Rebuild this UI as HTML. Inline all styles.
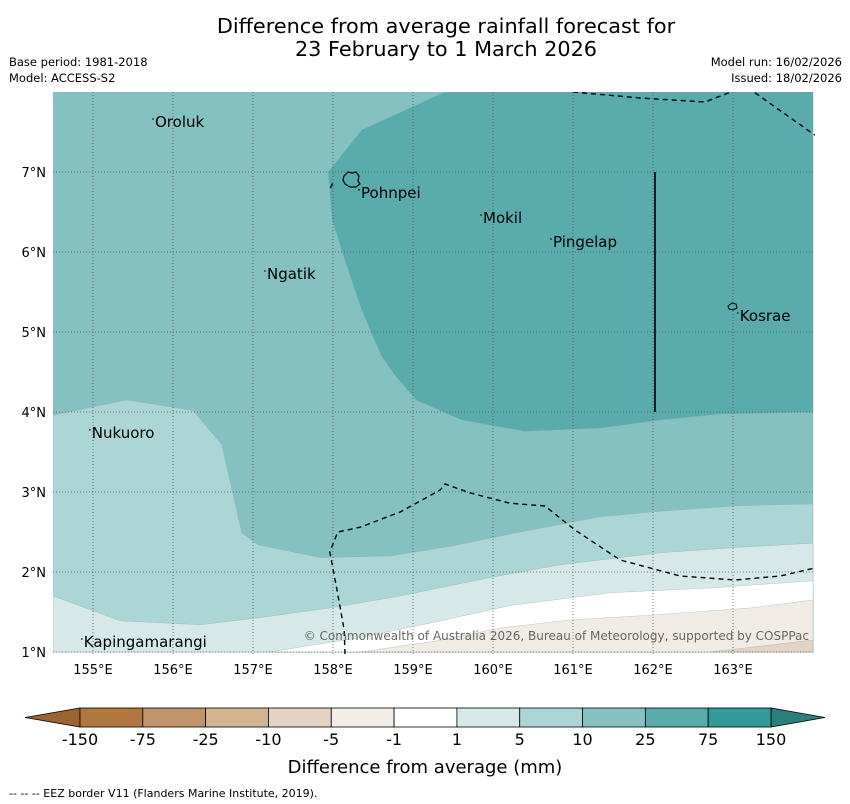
<!DOCTYPE html>
<html><head><meta charset="utf-8"><style>
body{margin:0;background:#fff;width:850px;height:804px;overflow:hidden;font-family:"DejaVu Sans","Liberation Sans",sans-serif}
svg{display:block}
</style></head><body>
<svg id="chart" width="850" height="804" font-family="DejaVu Sans, Liberation Sans, sans-serif">
<text x="446" y="33" font-size="20.8" text-anchor="middle">Difference from average rainfall forecast for</text>
<text x="446" y="56" font-size="20.8" text-anchor="middle">23 February to 1 March 2026</text>
<text x="9" y="66" font-size="11.5">Base period: 1981-2018</text>
<text x="9" y="82" font-size="11.5">Model: ACCESS-S2</text>
<text x="842" y="66" font-size="11.5" text-anchor="end">Model run: 16/02/2026</text>
<text x="842" y="82" font-size="11.5" text-anchor="end">Issued: 18/02/2026</text>
<defs><clipPath id="mapclip"><rect x="53" y="92" width="762" height="562"/></clipPath></defs>
<g id="map" clip-path="url(#mapclip)"></g>
<g id="overlay"></g>
<g id="cbar"></g>
<text x="425" y="773" font-size="18" text-anchor="middle">Difference from average (mm)</text>
<text x="9" y="797" font-size="11">--  --  -- EEZ border V11 (Flanders Marine Institute, 2019).</text>
</svg>
<script>
const lonTicks=[155,156,157,158,159,160,161,162,163];
const latTicks=[1,2,3,4,5,6,7];
const regionMid=[[154.5,8],[164,8],[164,1],[154.5,1]];
const regionDark=[[159.4,8],[158.36,7.525],[157.94,7],[157.99,6.4],[158.15,5.9],[158.36,5.275],[158.6,4.71],[158.775,4.46],[159.04,4.15],[159.61,3.9],[160.4,3.76],[161.34,3.8],[162.09,3.9],[162.84,3.975],[164,4],[164,8]];
const regionLight=[[154.5,3.96],[155.42,4.15],[156.25,4.02],[156.61,3.59],[156.86,2.49],[157.06,2.34],[157.84,2.18],[158.71,2.2],[159.46,2.32],[160.34,2.5],[161.34,2.69],[162.09,2.76],[163.09,2.83],[164,2.85],[164,1],[154.5,1]];
const regionVLight=[[154.5,1.7],[155.34,1.39],[156.34,1.34],[157.09,1.43],[157.96,1.55],[158.84,1.7],[159.96,1.93],[160.84,2.09],[162.09,2.24],[163.09,2.31],[164,2.36],[164,1],[154.5,1]];
const regionWhite=[[157.21,1],[158.34,1.18],[159.21,1.36],[160.21,1.58],[161.46,1.74],[162.71,1.8],[164,1.89],[164,1]];
const regionTan=[[158.34,1],[159.3,1.14],[160.09,1.3],[160.96,1.4],[161.96,1.46],[163.21,1.55],[164,1.65],[164,1]];
const regionTan2=[[162.71,1],[164,1.15],[164,1]];
const eezLines=[
 [[161.0,8],[161.84,7.925],[162.65,7.875],[163.025,8.02]],
 [[163.275,7.99],[164.025,7.46]],
 [[157.97,6.8],[158.0,6.87]],
 [[158.15,0.975],[158.14,1.275],[158.05,1.775],[157.96,2.25],[158.06,2.5],[158.34,2.56],[158.84,2.75],[159.34,3.025],[159.4,3.1],[159.71,2.99],[160.21,2.86],[160.65,2.825],[161.025,2.525],[161.59,2.15],[162.34,1.95],[163.025,1.9],[163.59,1.95],[164.025,2.05]]
];
const places=["Oroluk","Pohnpei","Mokil","Pingelap","Ngatik","Kosrae","Nukuoro","Kapingamarangi"];
const placeLon=[155.75,158.325,159.85,160.725,157.15,163.06,154.96,154.86];
const placeLat=[7.625,6.74,6.425,6.125,5.725,5.2,3.74,1.125];
const cbarLabels=["-150","-75","-25","-10","-5","-1","1","5","10","25","75","150"];
const cbarColors=["#b07840","#c19469","#d4b393","#e4d2c2","#f2ede7","#ffffff","#d6e9e8","#acd5d5","#85c2c1","#5aabab","#339999"];

const X=lon=>53+(lon-154.5)*80, Y=lat=>92+(8-lat)*80;
const NS="http://www.w3.org/2000/svg";
function mk(t,a,p){const e=document.createElementNS(NS,t);for(const k in a)e.setAttribute(k,a[k]);p.appendChild(e);return e;}
const map=document.getElementById('map'), ov=document.getElementById('overlay'), cb=document.getElementById('cbar');
function poly(pts,fill,name){const e=mk('polygon',{points:pts.map(p=>X(p[0])+','+Y(p[1])).join(' '),fill:fill,stroke:'#8aa',"stroke-width":0.3},map);

}
poly(regionMid,"#85c1c0","region-10-25");
poly(regionDark,"#5aabab","region-25-75");
poly(regionLight,"#acd5d5","region-5-10");
poly(regionVLight,"#d6e9e8","region-1-5");
poly(regionWhite,"#ffffff","region-neutral");
poly(regionTan,"#f1ebe5","region-minus1-5");
poly(regionTan2,"#e4d2c2","region-minus5-10");
mk('line',{x1:X(162)+2,y1:Y(7),x2:X(162)+2,y2:Y(4),stroke:'#000','stroke-width':1.6},map);
lonTicks.forEach(l=>{const e=mk('line',{x1:X(l),y1:92,x2:X(l),y2:654,stroke:'#555','stroke-width':0.8,'stroke-dasharray':'1,2'},map);


const t=mk('text',{x:X(l),y:674,'font-size':13,'text-anchor':'middle'},ov);t.textContent=l+'°E';

});
latTicks.forEach(l=>{const e=mk('line',{x1:53,y1:Y(l),x2:815,y2:Y(l),stroke:'#555','stroke-width':0.8,'stroke-dasharray':'1,2'},map);


const t=mk('text',{x:46,y:Y(l)+5,'font-size':13,'text-anchor':'end'},ov);t.textContent=l+'°N';

});
eezLines.forEach(L=>{const e=mk('polyline',{points:L.map(p=>X(p[0])+','+Y(p[1])).join(' '),fill:'none',stroke:'#000','stroke-width':1.4,'stroke-dasharray':'5,4'},map);

});
mk('path',{d:'M344,176 l4,-4 4,1 4,-1 3,4 -1,5 2,3 -4,3 -6,0 -5,-3 -2,-4z',fill:'none',stroke:'#000','stroke-width':1.2},map);
mk('path',{d:'M728,306 l4,-3 4,1 1,4 -4,2 -4,-1z',fill:'none',stroke:'#000','stroke-width':1},map);
places.forEach((p,i)=>{
mk('circle',{cx:X(placeLon[i]),cy:Y(placeLat[i])-3,r:0.8,fill:'#000'},map);
const t=mk('text',{x:X(placeLon[i])+2,y:Y(placeLat[i])+5,'font-size':15},map);t.textContent=p;

});
const c=mk('text',{x:809,y:640,'font-size':12,'text-anchor':'end',fill:'#666'},map);c.textContent="© Commonwealth of Australia 2026, Bureau of Meteorology, supported by COSPPac";


const bx=80,bw=(771-80)/cbarColors.length,by=708,bh=19;
mk('polygon',{points:`${bx},${by} ${bx},${by+bh} 25,${by+bh/2}`,fill:'#9a6430',stroke:'#000','stroke-width':0.8},cb);
mk('polygon',{points:`771,${by} 771,${by+bh} 825,${by+bh/2}`,fill:'#2e7e7e',stroke:'#000','stroke-width':0.8},cb);
cbarColors.forEach((col,i)=>{const r=mk('rect',{x:bx+i*bw,y:by,width:bw,height:bh,fill:col,stroke:'#000','stroke-width':0.8},cb);

});
cbarLabels.forEach((l,i)=>{const t=mk('text',{x:bx+i*bw,y:745,'font-size':16,'text-anchor':'middle'},cb);t.textContent=l;

});
</script>
</body></html>
